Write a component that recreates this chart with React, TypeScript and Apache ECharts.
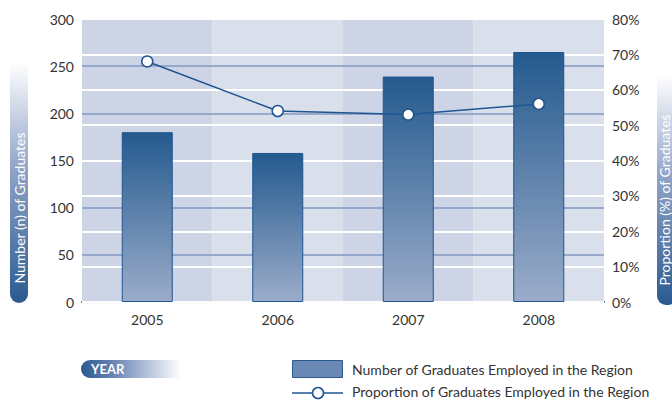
import React, { useEffect, useRef } from "react";
import * as echarts from "echarts";

const years = ["2005", "2006", "2007", "2008"];
const graduatesEmployed = [180, 158, 239, 265];
const proportionEmployed = [68, 54, 53, 56];
const leftTicks = [0, 300, 50];
const rightTicks = [0, 80, 10];

const FONT = "Lato, 'Open Sans', sans-serif";

export default function App() {
  const ref = useRef<HTMLDivElement>(null);
  useEffect(() => {
    if (!ref.current) return;
    const chart = echarts.init(ref.current, null, { renderer: "svg" });
    const barGrad = new echarts.graphic.LinearGradient(0, 0, 0, 1, [
      { offset: 0, color: "#245a8e" },
      { offset: 1, color: "#9bacca" },
    ]);
    const pillGrad = () =>
      new echarts.graphic.LinearGradient(0, 0, 0, 1, [
        { offset: 0, color: "#ffffff" },
        { offset: 0.45, color: "#8fa2c6" },
        { offset: 1, color: "#2a5a90" },
      ]);
    chart.setOption({
      animation: false,
      textStyle: { fontFamily: FONT },
      grid: { left: 82, right: 68, top: 19, bottom: 98 },
      xAxis: {
        type: "category",
        data: years,
        z: -1,
        axisLine: { lineStyle: { color: "#1f5590", width: 2 } },
        axisTick: { show: false },
        axisLabel: { color: "#333", fontSize: 14, margin: 10, fontFamily: FONT },
        splitArea: { show: true, areaStyle: { color: ["#cdd4e6", "#d9dfeb"] } },
      },
      yAxis: [
        {
          type: "value",
          min: leftTicks[0],
          max: leftTicks[1],
          interval: leftTicks[2],
          axisLine: { show: false },
          axisTick: { show: false },
          axisLabel: { color: "#333", fontSize: 14, margin: 8, fontFamily: FONT },
          splitLine: { lineStyle: { color: "#8299c0", width: 1.5 } },
        },
        {
          type: "value",
          min: rightTicks[0],
          max: rightTicks[1],
          interval: rightTicks[2],
          axisLine: { show: false },
          axisTick: { show: false },
          axisLabel: { color: "#333", fontSize: 14, margin: 8, formatter: "{value}%", fontFamily: FONT },
          splitLine: { lineStyle: { color: "#ffffff", width: 2 } },
        },
      ],
      series: [
        {
          name: "Number of Graduates Employed in the Region",
          type: "bar",
          data: graduatesEmployed,
          barWidth: 51,
          yAxisIndex: 0,
          z: 3,
          itemStyle: { color: barGrad, borderColor: "#1f5590", borderWidth: 1 },
        },
        {
          name: "Proportion of Graduates Employed in the Region",
          type: "line",
          data: proportionEmployed,
          yAxisIndex: 1,
          z: 4,
          symbol: "circle",
          symbolSize: 11,
          lineStyle: { color: "#1f5590", width: 1.5 },
          itemStyle: { color: "#ffffff", borderColor: "#1f5590", borderWidth: 1.5 },
        },
      ],
      graphic: [
        {
          type: "rect",
          shape: { x: 10, y: 62, width: 18, height: 241, r: [0, 0, 9, 9] },
          style: { fill: pillGrad() },
        },
        {
          type: "text",
          x: 19,
          y: 208,
          rotation: Math.PI / 2,
          style: {
            text: "Number (n) of Graduates",
            fill: "#ffffff",
            fontSize: 14,
            fontFamily: FONT,
            align: "center",
            verticalAlign: "middle",
          },
        },
        {
          type: "rect",
          shape: { x: 657, y: 75, width: 20, height: 230, r: [0, 0, 9, 9] },
          style: { fill: pillGrad() },
        },
        {
          type: "text",
          x: 664,
          y: 200,
          rotation: Math.PI / 2,
          style: {
            text: "Proportion (%) of Graduates",
            fill: "#ffffff",
            fontSize: 14,
            fontFamily: FONT,
            align: "center",
            verticalAlign: "middle",
          },
        },
        {
          type: "rect",
          shape: { x: 81, y: 360, width: 100, height: 18, r: [9, 0, 0, 9] },
          style: {
            fill: new echarts.graphic.LinearGradient(0, 0, 1, 0, [
              { offset: 0, color: "#2a5a90" },
              { offset: 0.35, color: "#6f88b6" },
              { offset: 1, color: "#ffffff" },
            ]),
          },
        },
        {
          type: "text",
          x: 91,
          y: 369,
          style: {
            text: "YEAR",
            fill: "#ffffff",
            fontSize: 13,
            fontWeight: "bold",
            fontFamily: FONT,
            verticalAlign: "middle",
          },
        },
        {
          type: "rect",
          shape: { x: 292.5, y: 360.5, width: 50, height: 17 },
          style: { fill: "#6a88b4", stroke: "#2a5a90", lineWidth: 1 },
        },
        {
          type: "text",
          x: 352,
          y: 369,
          style: {
            text: "Number of Graduates Employed in the Region",
            fill: "#333",
            fontSize: 14,
            fontFamily: FONT,
            verticalAlign: "middle",
          },
        },
        {
          type: "line",
          shape: { x1: 292, y1: 393, x2: 343, y2: 393 },
          style: { stroke: "#1f5590", lineWidth: 1.5 },
        },
        {
          type: "circle",
          shape: { cx: 318, cy: 393, r: 5.5 },
          style: { fill: "#ffffff", stroke: "#1f5590", lineWidth: 1.5 },
        },
        {
          type: "text",
          x: 352,
          y: 391,
          style: {
            text: "Proportion of Graduates Employed in the Region",
            fill: "#333",
            fontSize: 14,
            fontFamily: FONT,
            verticalAlign: "middle",
          },
        },
      ],
    });
    return () => chart.dispose();
  }, []);
  return <div ref={ref} style={{ width: 672, height: 400, position: "absolute", left: 0, top: 0 }} />;
}
